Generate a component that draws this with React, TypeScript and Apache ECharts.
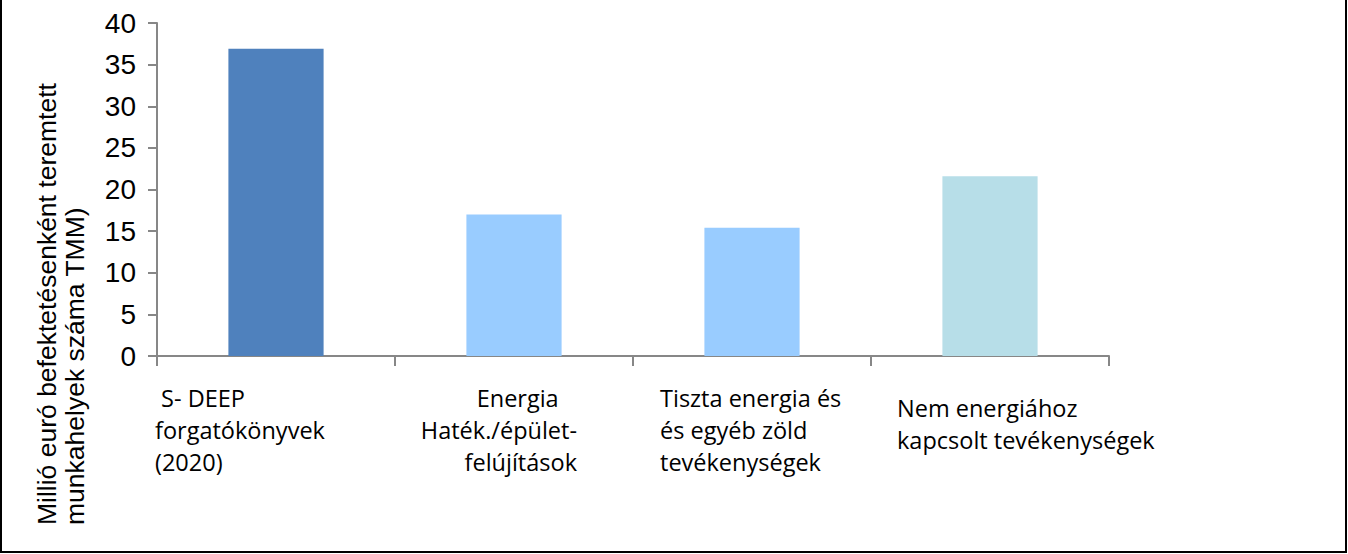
import React, { useEffect, useRef } from "react";
import * as echarts from "echarts";

const categories = [
  "\u00A0S- DEEP\nforgatókönyvek\n(2020)",
  "Energia\u00A0\u00A0\u00A0\nHaték./épület-\nfelújítások",
  "Tiszta energia és\nés egyéb zöld\ntevékenységek",
  "Nem energiához\nkapcsolt tevékenységek",
];
const values = [36.9, 17.0, 15.4, 21.6];
const barColors = ["#4F81BD", "#99CCFF", "#99CCFF", "#B7DEE8"];
const yTicks = [0, 40, 5];
const yTitle = "Millió euró befektetésenként teremtett\nmunkahelyek száma TMM)";

export default function App() {
  const ref = useRef<HTMLDivElement>(null);
  useEffect(() => {
    if (!ref.current) return;
    const chart = echarts.init(ref.current, undefined, { renderer: "svg" });
    const labelStyles = [
      { align: "left", padding: [0, 0, 0, -121] },
      { align: "right", padding: [0, -63, 0, 0] },
      { align: "left", padding: [0, 0, 0, -92] },
      { align: "left", padding: [10, 0, 0, -93] },
    ];
    chart.setOption({
      animation: false,
      backgroundColor: "#ffffff",
      grid: { left: 157, right: 239, top: 23, bottom: 198, containLabel: false },
      xAxis: {
        type: "category",
        data: categories.map((c, i) => ({ value: c, textStyle: labelStyles[i] })),
        axisLine: { lineStyle: { color: "#878787", width: 2 } },
        axisTick: { show: true, length: 10, alignWithLabel: false, lineStyle: { color: "#878787", width: 2 } },
        axisLabel: {
          interval: 0,
          margin: 26,
          color: "#000",
          fontFamily: "Open Sans",
          fontSize: 23.5,
          lineHeight: 32,
          align: "left",
        },
        splitLine: { show: false },
      },
      yAxis: {
        type: "value",
        min: yTicks[0],
        max: yTicks[1],
        interval: yTicks[2],
        axisLine: { show: true, lineStyle: { color: "#878787", width: 2 } },
        axisTick: { show: true, length: 9, lineStyle: { color: "#878787", width: 2 } },
        axisLabel: {
          color: "#000",
          fontFamily: "Liberation Sans",
          fontSize: 28,
          margin: 21,
        },
        splitLine: {
          show: true,
          lineStyle: {
            color: "#878787",
            width: 2.5,
            shadowColor: "rgba(0,0,0,0.18)",
            shadowOffsetY: 1.5,
            shadowBlur: 0,
          },
        },
      },
      series: [
        {
          type: "bar",
          data: values.map((v, i) => ({ value: v, itemStyle: { color: barColors[i] } })),
          barWidth: "40%",
        },
      ],
      graphic: [
        {
          type: "text",
          x: 61,
          y: 525,
          rotation: Math.PI / 2,
          style: {
            text: yTitle,
            fontFamily: "Liberation Sans",
            fontSize: 26.5,
            lineHeight: 28,
            fill: "#000",
            textAlign: "left",
            textVerticalAlign: "middle",
          },
        },
        {
          type: "polyline",
          shape: { points: [[1, 0], [1, 552], [1346, 552], [1346, 0]] },
          style: { stroke: "#000", lineWidth: 2, fill: "none" },
        },
      ],
    });
    return () => chart.dispose();
  }, []);
  return (
    <div
      ref={ref}
      style={{ position: "absolute", left: 0, top: 0, width: 1348, height: 554 }}
    />
  );
}
